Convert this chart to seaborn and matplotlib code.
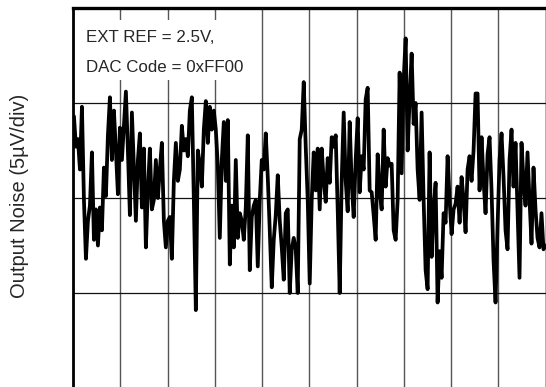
import numpy as np
import pandas as pd
import matplotlib
matplotlib.use("Agg")
import matplotlib.pyplot as plt
import matplotlib.patches as mpatches
import seaborn as sns

# Output noise trace, EXT REF = 2.5V, DAC code 0xFF00
# values in uV (5 uV/div, 10 time divisions)
noise_uv = [
    4.3, 2.7, 3.1, 1.5, 4.8, -0.1, -3.2, -1.2, -0.4, 2.4,
    -2.2, -0.6, -2.5, -0.5, -1.7, 1.6, 0.1, 3.3, 5.3, 2.0,
    4.6, 2.5, 0.2, 3.7, 2.0, 3.8, 5.6, 2.5, -0.9, 4.5,
    1.7, -1.2, 2.0, 3.4, -0.5, 2.6, -2.6, 0.4, 2.6, -0.6,
    -0.1, 2.0, 0.0, 1.5, 2.9, -1.2, -2.6, -1.2, -1.0, -3.2,
    0.9, 2.9, 0.9, 1.5, 3.8, 2.5, 3.1, 2.2, 4.6, 5.3,
    -0.1, -5.9, 2.5, 1.8, 0.6, 3.6, 5.1, 2.9, 4.8, 3.6,
    4.6, 3.6, 1.7, -2.1, 2.0, 4.0, 0.9, 4.1, -3.5, -0.4,
    -2.6, 2.0, -2.1, -0.8, -1.2, -2.2, -0.5, 3.3, -3.8, -1.0,
    -0.4, -0.1, -3.6, -0.1, 2.0, 1.5, 3.4, 1.1, -1.7, -4.7,
    -2.2, -0.9, 1.2, -1.2, -2.6, -4.3, -0.8, -0.6, -5.0, -2.7,
    -2.1, -2.7, -5.0, 3.1, 3.6, 6.1, 2.7, -0.1, -4.5, -0.1,
    2.4, 0.4, 2.6, -0.6, 2.6, 0.9, -0.2, 2.1, 0.8, 3.2,
    2.7, 3.3, -0.6, -5.0, 0.9, 4.5, 0.9, -0.7, 4.0, 0.8,
    -1.0, 2.0, 4.2, 0.3, 2.2, 1.5, 5.2, 5.8, 0.4, 0.3,
    -0.9, -2.2, 2.3, 0.4, -0.6, 3.6, 0.6, 2.1, 1.7, 1.8,
    -1.7, -2.2, -0.1, 6.6, 1.3, 6.2, 8.4, 2.5, 5.2, 7.6,
    3.9, 5.0, 1.5, -0.1, 4.5, -0.1, -3.8, -4.8, 2.4, -3.1,
    -0.6, 0.8, -5.5, -2.8, -4.2, -0.8, -1.3, 2.2, -0.1, -1.9,
    -0.6, -0.3, 0.6, -1.3, 1.1, -0.1, -1.8, 1.5, 2.2, 0.9,
    2.5, 5.5, 5.5, 0.4, 3.2, 0.9, -0.8, 2.3, 3.2, 0.4,
    -3.3, -5.5, -1.5, 2.0, 3.4, 1.1, -1.7, -2.7, 2.0, 3.6,
    0.6, 2.9, -0.6, -4.2, 2.9, 0.9, -0.4, 2.4, -0.1, -2.4,
    1.6, -0.6, -2.1, -2.6, -0.8, -2.7, -2.5,
]
time_div = np.linspace(0.02, 10.0, len(noise_uv))
df = pd.DataFrame({"time": time_div, "noise": noise_uv})

annot_lines = ["EXT REF = 2.5V,", "DAC Code = 0xFF00"]
ylabel = "Output Noise (5\u00b5V/div)"

sns.set_style("white")
plt.rcParams["font.family"] = ["Liberation Sans", "DejaVu Sans"]

fig = plt.figure(figsize=(5.46, 3.87), dpi=100)
ax = fig.add_axes([73 / 546, -1 / 387, 472.5 / 546, 380 / 387])

sns.lineplot(data=df, x="time", y="noise", ax=ax, color="black",
             linewidth=2.7, estimator=None, zorder=3)

ax.set_xlim(0, 10)
ax.set_ylim(-10, 10)
ax.set_xticks(np.arange(0, 11, 1))
ax.set_yticks([-10, -5, 0, 5, 10])
ax.tick_params(length=0, labelleft=False, labelbottom=False)
ax.set_xlabel("")
ax.set_ylabel("")
ax.xaxis.grid(True, color="#555555", linewidth=1.0)
ax.yaxis.grid(True, color="#111111", linewidth=0.9)
ax.set_axisbelow(True)

ax.spines["top"].set_linewidth(2.4)
ax.spines["left"].set_linewidth(2.0)
ax.spines["right"].set_linewidth(1.0)
ax.spines["bottom"].set_visible(False)
for s in ax.spines.values():
    s.set_color("black")

# white box behind the note, hides the grid there
ax.add_patch(mpatches.Rectangle((0.0, 0.8105), 0.387, 0.158,
                                transform=ax.transAxes, facecolor="white",
                                edgecolor="none", zorder=2))
ax.text(0.0275, 0.9105, annot_lines[0], transform=ax.transAxes,
        fontsize=12.2, va="baseline", ha="left", zorder=4)
ax.text(0.0275, 0.8316, annot_lines[1], transform=ax.transAxes,
        fontsize=12.2, va="baseline", ha="left", zorder=4)

fig.text(20 / 546, 1 - 195.5 / 387, ylabel, rotation=90,
         fontsize=14.5, va="center", ha="center")

fig.savefig("out.png", dpi=100)
